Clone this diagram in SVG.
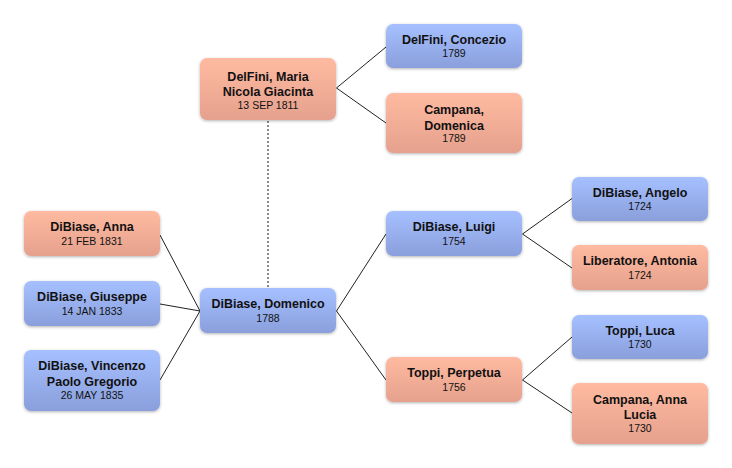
<svg xmlns="http://www.w3.org/2000/svg" width="732" height="468" viewBox="0 0 732 468">
<defs>
<linearGradient id="gBlue" x1="0" y1="0" x2="0" y2="1">
<stop offset="0" stop-color="#a6c0ff"/>
<stop offset="1" stop-color="#8a9fdc"/>
</linearGradient>
<linearGradient id="gPink" x1="0" y1="0" x2="0" y2="1">
<stop offset="0" stop-color="#ffbaa1"/>
<stop offset="1" stop-color="#e5a18d"/>
</linearGradient>
<filter id="sh" x="-10%" y="-20%" width="120%" height="150%">
<feDropShadow dx="0" dy="1" stdDeviation="1.5" flood-color="#000" flood-opacity="0.3"/>
</filter>
</defs>
<style>
.box{filter:url(#sh);}
.blue{fill:url(#gBlue);}
.pink{fill:url(#gPink);}
.n{font-family:"Liberation Sans",Arial,sans-serif;font-weight:bold;font-size:12.5px;fill:#111;text-anchor:middle;}
.d{font-family:"Liberation Sans",Arial,sans-serif;font-size:10.5px;fill:#111;text-anchor:middle;}
.ln{stroke:#222;stroke-width:1;fill:none;}
.dot{stroke:#888;stroke-width:2;stroke-dasharray:2 2;fill:none;}
</style>
<rect width="732" height="468" fill="#fff"/>
<g id="connectors">
<line class="dot" x1="268" y1="121" x2="268" y2="288"/>
<polyline class="ln" points="386,47 336.5,88 386,123"/>
<polyline class="ln" points="160,235 200,311 160,380"/>
<line class="ln" x1="160" y1="304" x2="200" y2="311"/>
<polyline class="ln" points="386,234 336.5,311 386,380"/>
<polyline class="ln" points="572,198.5 522.5,234 572,268"/>
<polyline class="ln" points="572,337 522.5,380 572,413"/>
</g>
<g id="maria">
<rect class="box pink" x="200" y="58" width="136" height="62" rx="7"/>
<text class="n" x="268" y="80.5">DelFini, Maria</text>
<text class="n" x="268" y="96">Nicola Giacinta</text>
<text class="d" x="268" y="108.5">13 SEP 1811</text>
</g>
<g id="concezio">
<rect class="box blue" x="386" y="24" width="136" height="44" rx="7"/>
<text class="n" x="454" y="43.5">DelFini, Concezio</text>
<text class="d" x="454" y="56.5">1789</text>
</g>
<g id="domenica">
<rect class="box pink" x="386" y="93" width="136" height="60" rx="7"/>
<text class="n" x="454" y="114">Campana,</text>
<text class="n" x="454" y="129.5">Domenica</text>
<text class="d" x="454" y="142">1789</text>
</g>
<g id="anna">
<rect class="box pink" x="24" y="211" width="136" height="45" rx="7"/>
<text class="n" x="92" y="231">DiBiase, Anna</text>
<text class="d" x="92" y="244.5">21 FEB 1831</text>
</g>
<g id="giuseppe">
<rect class="box blue" x="24" y="281" width="136" height="45" rx="7"/>
<text class="n" x="92" y="301">DiBiase, Giuseppe</text>
<text class="d" x="92" y="314.5">14 JAN 1833</text>
</g>
<g id="vincenzo">
<rect class="box blue" x="24" y="350" width="136" height="61" rx="7"/>
<text class="n" x="92" y="370">DiBiase, Vincenzo</text>
<text class="n" x="92" y="385.5">Paolo Gregorio</text>
<text class="d" x="92" y="399">26 MAY 1835</text>
</g>
<g id="domenico">
<rect class="box blue" x="200" y="288" width="136" height="45" rx="7"/>
<text class="n" x="268" y="308">DiBiase, Domenico</text>
<text class="d" x="268" y="321.5">1788</text>
</g>
<g id="luigi">
<rect class="box blue" x="386" y="211" width="136" height="45" rx="7"/>
<text class="n" x="454" y="231">DiBiase, Luigi</text>
<text class="d" x="454" y="244.5">1754</text>
</g>
<g id="perpetua">
<rect class="box pink" x="386" y="357" width="136" height="45" rx="7"/>
<text class="n" x="454" y="377">Toppi, Perpetua</text>
<text class="d" x="454" y="390.5">1756</text>
</g>
<g id="angelo">
<rect class="box blue" x="572" y="177" width="136" height="44" rx="7"/>
<text class="n" x="640" y="196.5">DiBiase, Angelo</text>
<text class="d" x="640" y="209.5">1724</text>
</g>
<g id="liberatore">
<rect class="box pink" x="572" y="245" width="136" height="45" rx="7"/>
<text class="n" x="640" y="265">Liberatore, Antonia</text>
<text class="d" x="640" y="278.5">1724</text>
</g>
<g id="luca">
<rect class="box blue" x="572" y="315" width="136" height="44" rx="7"/>
<text class="n" x="640" y="334.5">Toppi, Luca</text>
<text class="d" x="640" y="347.5">1730</text>
</g>
<g id="annalucia">
<rect class="box pink" x="572" y="383" width="136" height="61" rx="7"/>
<text class="n" x="640" y="403.5">Campana, Anna</text>
<text class="n" x="640" y="419">Lucia</text>
<text class="d" x="640" y="432">1730</text>
</g>
</svg>
